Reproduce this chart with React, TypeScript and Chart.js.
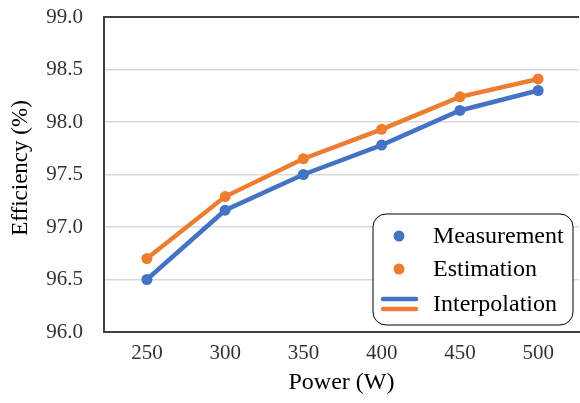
import React, { useEffect, useRef } from "react";
import { Chart, registerables } from "chart.js";

Chart.register(...registerables);

const categories = [250, 300, 350, 400, 450, 500];
const measurement = [96.5, 97.16, 97.5, 97.78, 98.11, 98.3];
const estimation = [96.7, 97.29, 97.65, 97.93, 98.24, 98.41];
const yTicks = [96.0, 96.5, 97.0, 97.5, 98.0, 98.5, 99.0];
const seriesNames = ["Measurement", "Estimation"];
const lineLegendName = "Interpolation";
const yTitle = "Efficiency (%)";
const xTitle = "Power (W)";

const BLUE = "#4472C4";
const ORANGE = "#ED7D31";
const FONT = "'Liberation Serif', 'Times New Roman', serif";

const legendPlugin = {
  id: "customLegend",
  afterDraw(chart: any) {
    const ctx = chart.ctx;
    const { right, bottom } = chart.chartArea;
    const w = 200;
    const h = 111;
    const x = right - 206;
    const y = bottom - 118;
    ctx.save();
    ctx.beginPath();
    ctx.roundRect(x, y, w, h, 13);
    ctx.fillStyle = "#ffffff";
    ctx.fill();
    ctx.lineWidth = 1;
    ctx.strokeStyle = "#000000";
    ctx.stroke();
    const mx = x + 26;
    const tx = x + 60;
    const rows = [y + 22, y + 55, y + 90];
    ctx.font = `24px ${FONT}`;
    ctx.textBaseline = "middle";
    ctx.textAlign = "left";
    const colors = [BLUE, ORANGE];
    for (let i = 0; i < 2; i++) {
      ctx.beginPath();
      ctx.arc(mx, rows[i], 5.5, 0, Math.PI * 2);
      ctx.fillStyle = colors[i];
      ctx.fill();
      ctx.fillStyle = "#000000";
      ctx.fillText(seriesNames[i], tx, rows[i] + 1);
    }
    ctx.lineCap = "round";
    ctx.lineWidth = 4.5;
    ctx.strokeStyle = BLUE;
    ctx.beginPath();
    ctx.moveTo(x + 10, rows[2] - 5);
    ctx.lineTo(x + 43, rows[2] - 5);
    ctx.stroke();
    ctx.strokeStyle = ORANGE;
    ctx.beginPath();
    ctx.moveTo(x + 10, rows[2] + 5);
    ctx.lineTo(x + 43, rows[2] + 5);
    ctx.stroke();
    ctx.fillStyle = "#000000";
    ctx.fillText(lineLegendName, tx, rows[2] + 1);
    ctx.restore();
  },
};

const framePlugin = {
  id: "frameAndTitle",
  beforeDatasetsDraw(chart: any) {
    const ctx = chart.ctx;
    const { left, right, top } = chart.chartArea;
    ctx.save();
    ctx.strokeStyle = "#404040";
    ctx.lineWidth = 2;
    ctx.beginPath();
    ctx.moveTo(left, top);
    ctx.lineTo(right, top);
    ctx.stroke();
    ctx.translate(21, top + 151);
    ctx.rotate(-Math.PI / 2);
    ctx.font = `23px ${FONT}`;
    ctx.fillStyle = "#000000";
    ctx.textAlign = "center";
    ctx.textBaseline = "middle";
    ctx.fillText(yTitle, 0, 0);
    ctx.restore();
  },
};

export default function App() {
  const ref = useRef<HTMLCanvasElement | null>(null);
  useEffect(() => {
    document.body.style.margin = "0";
    if (!ref.current) return;
    const chart = new Chart(ref.current, {
      type: "line",
      data: {
        datasets: [
          {
            label: seriesNames[0],
            data: categories.map((c, i) => ({ x: c, y: measurement[i] })),
            borderColor: BLUE,
            backgroundColor: BLUE,
            borderWidth: 4.5,
            pointRadius: 5.5,
            pointBorderWidth: 0,
            pointBackgroundColor: BLUE,
            order: 1,
          },
          {
            label: seriesNames[1],
            data: categories.map((c, i) => ({ x: c, y: estimation[i] })),
            borderColor: ORANGE,
            backgroundColor: ORANGE,
            borderWidth: 4.5,
            pointRadius: 5.5,
            pointBorderWidth: 0,
            pointBackgroundColor: ORANGE,
            order: 2,
          },
        ],
      },
      options: {
        responsive: false,
        animation: false,
        layout: { autoPadding: false, padding: { top: 17, right: 1, left: 0, bottom: 0 } },
        plugins: {
          legend: { display: false },
          tooltip: { enabled: false },
        },
        scales: {
          x: {
            type: "linear",
            min: 222.6,
            max: 526.1,
            afterBuildTicks: (s: any) => {
              s.ticks = categories.map((v) => ({ value: v }));
            },
            afterFit: (s: any) => {
              s.height = 71;
              s.paddingLeft = 0;
              s.paddingRight = 0;
            },
            grid: { display: false, drawTicks: false },
            border: { color: "#404040", width: 2 },
            ticks: {
              padding: 9,
              color: "#333333",
              font: { family: FONT, size: 21 },
              callback: (v: any) => String(v),
              maxRotation: 0,
            },
            title: {
              display: true,
              text: xTitle,
              color: "#000000",
              font: { family: FONT, size: 24 },
              padding: { top: 0, bottom: 6 },
            },
          },
          y: {
            type: "linear",
            min: 96,
            max: 99,
            afterBuildTicks: (s: any) => {
              s.ticks = yTicks.map((v) => ({ value: v }));
            },
            afterFit: (s: any) => {
              s.width = 104;
              s.paddingTop = 0;
              s.paddingBottom = 0;
            },
            grid: {
              color: "#d9d9d9",
              lineWidth: 1.5,
              drawTicks: false,
            },
            border: { color: "#404040", width: 2 },
            ticks: {
              padding: 21,
              color: "#333333",
              font: { family: FONT, size: 21 },
              callback: (v: any) => Number(v).toFixed(1),
            },
            title: { display: false },
          },
        },
      },
      plugins: [framePlugin, legendPlugin],
    });
    return () => chart.destroy();
  }, []);
  return (
    <div style={{ width: 580, height: 403 }}>
      <canvas ref={ref} width={580} height={403} />
    </div>
  );
}
